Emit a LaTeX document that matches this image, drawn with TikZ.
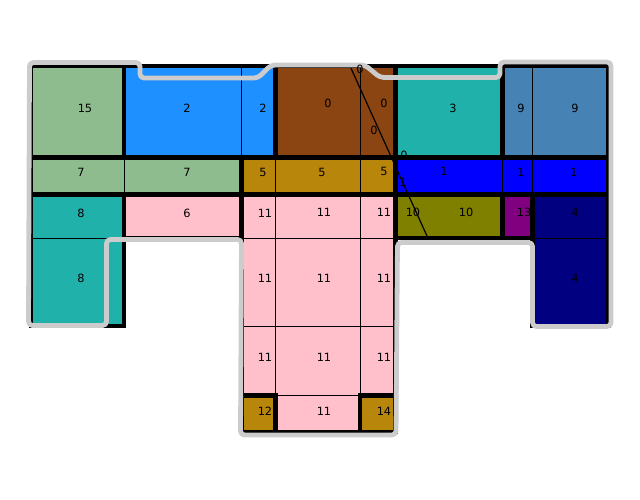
\documentclass[tikz,border=0pt]{standalone}
\usepackage{fontspec}
\setmainfont{DejaVu Sans}
\definecolor{cDsg}{HTML}{8FBC8F}
\definecolor{cDodger}{HTML}{1E90FF}
\definecolor{cBrown}{HTML}{8B4513}
\definecolor{cLsg}{HTML}{20B2AA}
\definecolor{cSteel}{HTML}{4682B4}
\definecolor{cGold}{HTML}{B8860B}
\definecolor{cBlue}{HTML}{0000FF}
\definecolor{cPink}{HTML}{FFC0CB}
\definecolor{cOlive}{HTML}{808000}
\definecolor{cPurple}{HTML}{800080}
\definecolor{cNavy}{HTML}{000080}
\definecolor{cEnv}{HTML}{CCCCCC}
\newcommand\cellr[5]{\filldraw[cellline,fill=#5] (#1,#2) rectangle (#3,#4);}
\begin{document}
\begin{tikzpicture}[x=0.75pt,y=-0.75pt,
  cellline/.style={draw=black,line width=0.75pt},
  grp/.style={draw=black,line width=3.4pt,line join=miter},
  env/.style={draw=cEnv,line width=3.6pt,line join=round,line cap=round,rounded corners=3pt},
  lab/.style={inner sep=0pt,font=\fontsize{8.5}{10}\selectfont}]
\useasboundingbox (0,0) rectangle (640,500);
% row 1
\cellr{31}{66}{124.2}{157.5}{cDsg}
\cellr{124.2}{66}{241.7}{157.5}{cDodger}
\cellr{241.7}{66}{275.3}{157.5}{cDodger}
\cellr{275.3}{66}{360}{157.5}{cBrown}
\cellr{360}{66}{395.5}{157.5}{cBrown}
\cellr{395.5}{66}{502.5}{157.5}{cLsg}
\cellr{502.5}{66}{532.5}{157.5}{cSteel}
\cellr{532.5}{66}{608.7}{157.5}{cSteel}
% row 2
\cellr{31}{157.5}{124.2}{194.7}{cDsg}
\cellr{124.2}{157.5}{241.7}{194.7}{cDsg}
\cellr{241.7}{157.5}{275.3}{194.7}{cGold}
\cellr{275.3}{157.5}{360}{194.7}{cGold}
\cellr{360}{157.5}{395.5}{194.7}{cGold}
\cellr{395.5}{157.5}{502.5}{194.7}{cBlue}
\cellr{502.5}{157.5}{532.5}{194.7}{cBlue}
\cellr{532.5}{157.5}{608.7}{194.7}{cBlue}
% row 3
\cellr{31}{194.7}{124.2}{238}{cLsg}
\cellr{124.2}{194.7}{241.7}{238}{cPink}
\cellr{241.7}{194.7}{275.3}{238}{cPink}
\cellr{275.3}{194.7}{360}{238}{cPink}
\cellr{360}{194.7}{395.5}{238}{cPink}
\cellr{395.5}{194.7}{502.5}{238}{cOlive}
\cellr{502.5}{194.7}{532.5}{238}{cPurple}
\cellr{532.5}{194.7}{608.7}{238}{cNavy}
% row 4
\cellr{31}{238}{124.2}{326}{cLsg}
\cellr{241.7}{238}{275.3}{326}{cPink}
\cellr{275.3}{238}{360}{326}{cPink}
\cellr{360}{238}{395.5}{326}{cPink}
\cellr{532.5}{238}{608.7}{326}{cNavy}
% row 5
\cellr{241.7}{326}{275.3}{395.5}{cPink}
\cellr{275.3}{326}{360}{395.5}{cPink}
\cellr{360}{326}{395.5}{395.5}{cPink}
% row 6
\cellr{241.7}{395.5}{275.3}{432}{cGold}
\cellr{275.3}{395.5}{360}{432}{cPink}
\cellr{360}{395.5}{395.5}{432}{cGold}
% labels
\node[lab] (a1) at (85,108) {15};
\node[lab] (a2) at (187,108) {2};
\node[lab] (a3) at (263,108) {2};
\node[lab] (a4) at (328,103) {0};
\node[lab] (a5) at (384,103) {0};
\node[lab] (a6) at (374,130) {0};
\node[lab] (a8) at (453,108) {3};
\node[lab] (a9) at (521,108) {9};
\node[lab] (a10) at (575,108) {9};
\node[lab] (b1) at (81,172) {7};
\node[lab] (b2) at (187,172) {7};
\node[lab] (b3) at (263,172) {5};
\node[lab] (b4) at (322,172) {5};
\node[lab] (b5) at (384,171) {5};
\node[lab] (b6) at (444,171) {1};
\node[lab] (b7) at (521,172) {1};
\node[lab] (b8) at (574,172) {1};
\node[lab] (b9) at (403,182) {1};
\node[lab] (b10) at (404,155) {0};
\node[lab] (c1) at (81,213) {8};
\node[lab] (c2) at (187,213) {6};
\node[lab] (c3) at (265,213) {11};
\node[lab] (c4) at (324,212) {11};
\node[lab] (c5) at (384,212) {11};
\node[lab] (c6) at (413,212) {10};
\node[lab] (c7) at (466,212) {10};
\node[lab] (c8) at (524,212) {13};
\node[lab] (c9) at (575,212) {4};
\node[lab] (d1) at (81,278) {8};
\node[lab] (d2) at (265,278) {11};
\node[lab] (d3) at (324,278) {11};
\node[lab] (d4) at (384,278) {11};
\node[lab] (d5) at (575,278) {4};
\node[lab] (e1) at (265,357) {11};
\node[lab] (e2) at (324,357) {11};
\node[lab] (e3) at (384,357) {11};
\node[lab] (f1) at (265,411) {12};
\node[lab] (f2) at (324,411) {11};
\node[lab] (f3) at (384,411) {14};
% diagonal
\coordinate (p1) at (350,66);
\coordinate (p2) at (427,236);
\draw[line width=0.9pt] (p1) -- (p2);
% group outlines
\draw[grp] (31,66) rectangle (124.2,157.5);
\draw[grp] (124.2,66) rectangle (275.3,157.5);
\draw[grp] (275.3,66) rectangle (395.5,157.5);
\draw[grp] (395.5,66) rectangle (502.5,157.5);
\draw[grp] (502.5,66) rectangle (608.7,157.5);
\draw[grp] (31,157.5) rectangle (241.7,194.7);
\draw[grp] (241.7,157.5) rectangle (395.5,194.7);
\draw[grp] (395.5,157.5) rectangle (608.7,194.7);
\draw[grp] (31,194.7) rectangle (124.2,326);
\draw[grp] (124.2,194.7) rectangle (241.7,238);
\draw[grp] (241.7,194.7) -- (395.5,194.7) -- (395.5,395.5) -- (360,395.5) -- (360,432) -- (275.3,432) -- (275.3,395.5) -- (241.7,395.5) -- cycle;
\draw[grp] (395.5,194.7) rectangle (502.5,238);
\draw[grp] (502.5,194.7) rectangle (532.5,238);
\draw[grp] (532.5,194.7) rectangle (608.7,326);
\draw[grp] (241.7,395.5) rectangle (275.3,432);
\draw[grp] (360,395.5) rectangle (395.5,432);
% envelope
\draw[env] (29.5,62.5) -- (140,62.5) -- (140,78) -- (258,78) -- (271,65) -- (365,65) -- (380,77.5) -- (500,77.5) -- (500,62) -- (611,62) -- (611,326.5) -- (532.5,326.5) -- (532.5,242.5) -- (397.5,242.5) -- (396,435) -- (240.5,435) -- (241.5,239.5) -- (106.5,239.5) -- (106.5,325.5) -- (28.5,325.5) -- cycle;
\node[lab] (a7) at (360,69) {0};
\end{tikzpicture}
\end{document}
